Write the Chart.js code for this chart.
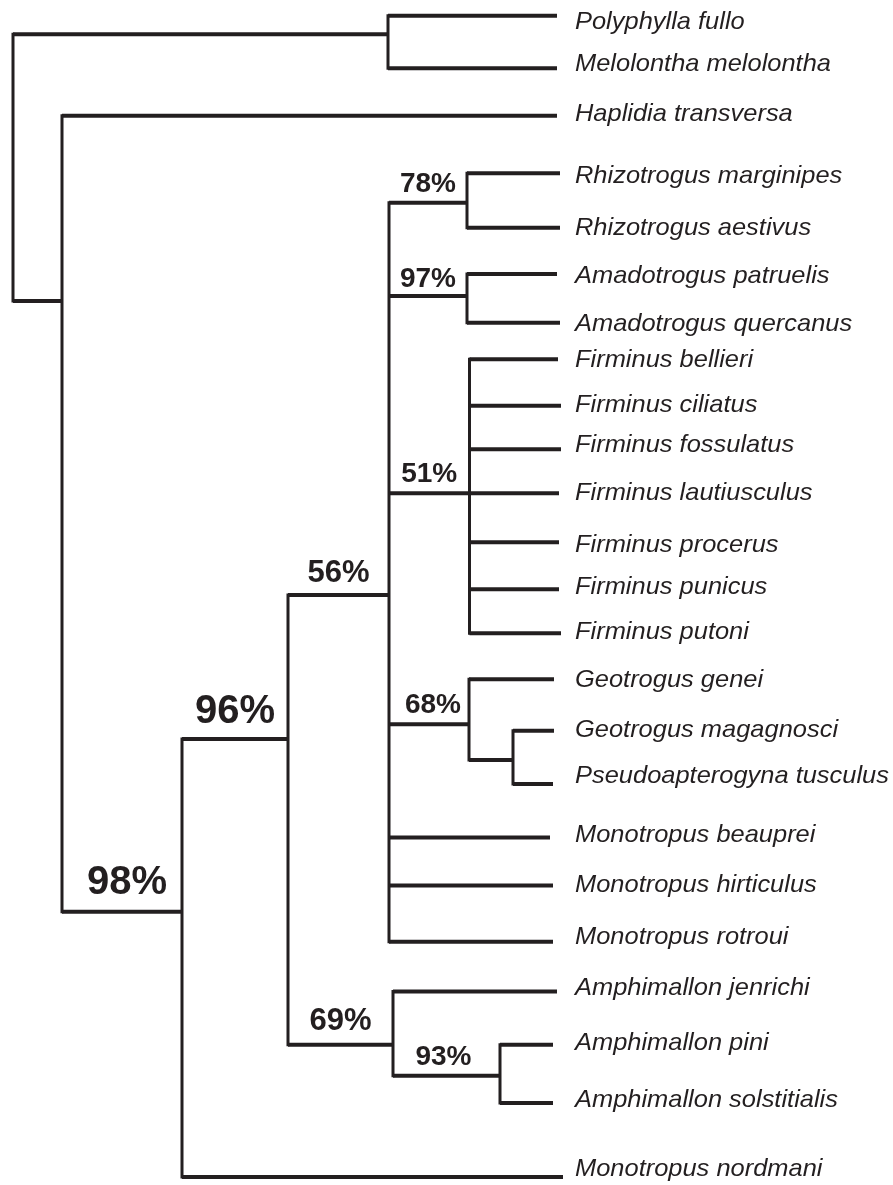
<!DOCTYPE html>
<html>
<head>
<meta charset="utf-8">
<script src="https://cdn.jsdelivr.net/npm/chart.js@4"></script>
<style>
html,body{margin:0;padding:0;background:#fff;}
#wrap{width:893px;height:1185px;position:relative;}
</style>
</head>
<body>
<div id="wrap"><canvas id="c"></canvas></div>
<script>
// ---- Data (tree) ----
const leafNames = [
  "Polyphylla fullo","Melolontha melolontha","Haplidia transversa",
  "Rhizotrogus marginipes","Rhizotrogus aestivus",
  "Amadotrogus patruelis","Amadotrogus quercanus",
  "Firminus bellieri","Firminus ciliatus","Firminus fossulatus","Firminus lautiusculus",
  "Firminus procerus","Firminus punicus","Firminus putoni",
  "Geotrogus genei","Geotrogus magagnosci","Pseudoapterogyna tusculus",
  "Monotropus beauprei","Monotropus hirticulus","Monotropus rotroui",
  "Amphimallon jenrichi","Amphimallon pini","Amphimallon solstitialis",
  "Monotropus nordmani"
];
const leafY = [15.7,68.3,115.7,173.3,227.7,274,322.7,359.3,405.7,449.3,493.3,542.3,589.3,633.3,679.3,730.7,784,837.5,885.5,941.7,991.5,1044.8,1103,1177];
const leafTipX = [557,557,557,560,560,557,560,558,561,561,559,559,559,561,554,554,553,550,553,553,557,553,553,563];
const leafLabelY = [20,62,112,174,226,274,322.5,358,403,443.3,491,543.3,585.3,630.3,678.3,728.3,774,833.3,883.3,935,986.7,1041.7,1098.3,1167];
const leafParent = ["A","A","B","G","G","H","H","I","I","I","I","I","I","I","J","K","K","E","E","E","F","L","L","C"];

const nodeIds     = ["R","A","B","C","D","E","F","G","H","I","J","K","L"];
const nodeX       = [13,388,62,182,288,389,393,467,467,469.5,469,513,500];
const nodeY       = [null,34.3,301,911.7,739,595,1044.7,202.7,296,493.3,724.3,760,1075.7];
const nodeParent  = [null,"R","R","B","C","D","D","E","E","E","E","J","F"];
const nodeSupport = [null,null,null,"98%","96%","56%","69%","78%","97%","51%","68%",null,"93%"];

// ---- Styles ----
const INK = "#231f20";
const supportFontSize = {C:40, D:40, E:31, F:31};
const supportGap = {C:18, D:16, E:13, F:15, H:9};
const supportDx = {C:5, J:4, L:-3};
const LABEL_X = 575;

// ---- Build segments ----
const idx = id => nodeIds.indexOf(id);
const children = {};
nodeIds.forEach(id => children[id] = []);
leafNames.forEach((n,i) => children[leafParent[i]].push(leafY[i]));
nodeIds.forEach((id,i) => { if (nodeParent[i]) children[nodeParent[i]].push(nodeY[i]); });

const datasets = [];
function seg(x1,y1,x2,y2,w,cap){
  datasets.push({
    data:[{x:x1,y:y1},{x:x2,y:y2}],
    showLine:true, borderColor:INK, borderWidth:w, pointRadius:0,
    borderCapStyle:cap||"butt", fill:false, tension:0
  });
}
// verticals
nodeIds.forEach((id,i) => {
  const ys = children[id];
  seg(nodeX[i], Math.min(...ys), nodeX[i], Math.max(...ys), 3, "square");
});
// horizontals to internal nodes
nodeIds.forEach((id,i) => {
  if (!nodeParent[i]) return;
  const p = idx(nodeParent[i]);
  seg(nodeX[p], nodeY[i], nodeX[i], nodeY[i], 4);
});
// horizontals to leaves
leafNames.forEach((n,i) => {
  const p = idx(leafParent[i]);
  seg(nodeX[p], leafY[i], leafTipX[i], leafY[i], 4);
});

const labelPlugin = {
  id:"treeLabels",
  afterDatasetsDraw(chart){
    const ctx = chart.ctx, xs = chart.scales.x, ys = chart.scales.y;
    ctx.save();
    ctx.fillStyle = INK;
    // species names (cap-height centred on the read label position)
    ctx.font = "italic 24px 'Liberation Sans', Arial, sans-serif";
    ctx.textAlign = "left";
    ctx.textBaseline = "alphabetic";
    leafNames.forEach((n,i) => {
      const px = xs.getPixelForValue(LABEL_X);
      const py = ys.getPixelForValue(leafLabelY[i]) + 8.6;
      ctx.save();
      ctx.translate(px, py);
      ctx.scale(1.06, 1);
      ctx.fillText(n, 0, 0);
      ctx.restore();
    });
    // support values
    ctx.textAlign = "center";
    nodeIds.forEach((id,i) => {
      if (!nodeSupport[i]) return;
      const p = idx(nodeParent[i]);
      const size = supportFontSize[id] || 28;
      const gap = supportGap[id] || 11;
      ctx.font = "bold " + size + "px 'Liberation Sans', Arial, sans-serif";
      const cx = xs.getPixelForValue((nodeX[p] + nodeX[i]) / 2) + (supportDx[id] || 0);
      const cy = ys.getPixelForValue(nodeY[i]) - gap;
      ctx.fillText(nodeSupport[i], cx, cy);
    });
    ctx.restore();
  }
};

new Chart(document.getElementById("c"), {
  type:"scatter",
  data:{datasets},
  options:{
    responsive:true, maintainAspectRatio:false, animation:false,
    layout:{padding:0},
    plugins:{legend:{display:false}, tooltip:{enabled:false}},
    scales:{
      x:{type:"linear", min:0, max:893, display:false},
      y:{type:"linear", min:0, max:1185, reverse:true, display:false}
    },
    elements:{line:{borderJoinStyle:"miter"}}
  },
  plugins:[labelPlugin]
});
</script>
</body>
</html>
